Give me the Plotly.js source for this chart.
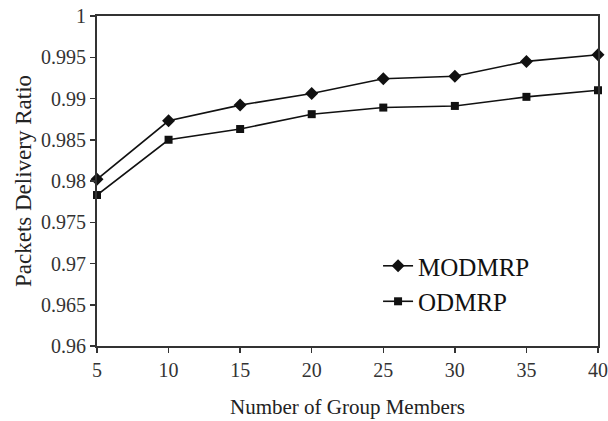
<!DOCTYPE html>
<html>
<head>
<meta charset="utf-8">
<script src="https://cdn.plot.ly/plotly-3.0.1.min.js"></script>
<style>
  html, body { margin: 0; padding: 0; background: #fff; }
  #chart { width: 608px; height: 421px; }
</style>
</head>
<body>
<div id="chart"></div>
<script>
// Group sizes on the x axis
const groupMembers = [5, 10, 15, 20, 25, 30, 35, 40];
// Packet delivery ratio for each protocol
const modmrpRatio = [0.9802, 0.9873, 0.9892, 0.9906, 0.9924, 0.9927, 0.9945, 0.9953];
const odmrpRatio  = [0.9783, 0.9850, 0.9863, 0.9881, 0.9889, 0.9891, 0.9902, 0.9910];
// Tick values
const xTicks = [5, 10, 15, 20, 25, 30, 35, 40];
const yTicks = [0.96, 0.965, 0.97, 0.975, 0.98, 0.985, 0.99, 0.995, 1];

const serif = '"Liberation Serif", "Times New Roman", serif';

const traces = [
  {
    x: groupMembers, y: modmrpRatio, name: 'MODMRP',
    type: 'scatter', mode: 'lines+markers', cliponaxis: false,
    line: { color: '#111', width: 1.6 },
    marker: { symbol: 'diamond', size: 10, color: '#111' }
  },
  {
    x: groupMembers, y: odmrpRatio, name: 'ODMRP',
    type: 'scatter', mode: 'lines+markers', cliponaxis: false,
    line: { color: '#111', width: 1.6 },
    marker: { symbol: 'square', size: 8, color: '#111' }
  }
];

const layout = {
  width: 608, height: 421,
  margin: { l: 97, r: 10, t: 16, b: 75 },
  paper_bgcolor: '#fff', plot_bgcolor: '#fff',
  font: { family: serif, color: '#222' },
  showlegend: true,
  legend: {
    x: 0.561, y: 0.312, xanchor: 'left', yanchor: 'top',
    bgcolor: 'rgba(0,0,0,0)', borderwidth: 0,
    font: { family: serif, size: 25, color: '#111' },
    tracegroupgap: 0
  },
  xaxis: {
    range: [5, 40], tickvals: xTicks, ticktext: xTicks.map(String),
    showgrid: false, zeroline: false,
    showline: true, linecolor: '#333', linewidth: 2, mirror: true,
    ticks: 'outside', ticklen: 5, tickwidth: 1.5, tickcolor: '#333',
    tickfont: { family: serif, size: 20, color: '#333' },
    title: { text: 'Number of Group Members', font: { family: serif, size: 21, color: '#222' }, standoff: 19 }
  },
  yaxis: {
    range: [0.96, 1], tickvals: yTicks, ticktext: yTicks.map(v => String(+v.toFixed(3))),
    showgrid: false, zeroline: false,
    showline: true, linecolor: '#333', linewidth: 2, mirror: true,
    ticks: 'outside', ticklen: 5, tickwidth: 1.5, tickcolor: '#333',
    tickfont: { family: serif, size: 20, color: '#333' },
    title: { text: 'Packets Delivery Ratio', font: { family: serif, size: 23, color: '#222' }, standoff: 3 }
  }
};

Plotly.newPlot('chart', traces, layout, { displayModeBar: false, staticPlot: true });
</script>
</body>
</html>
